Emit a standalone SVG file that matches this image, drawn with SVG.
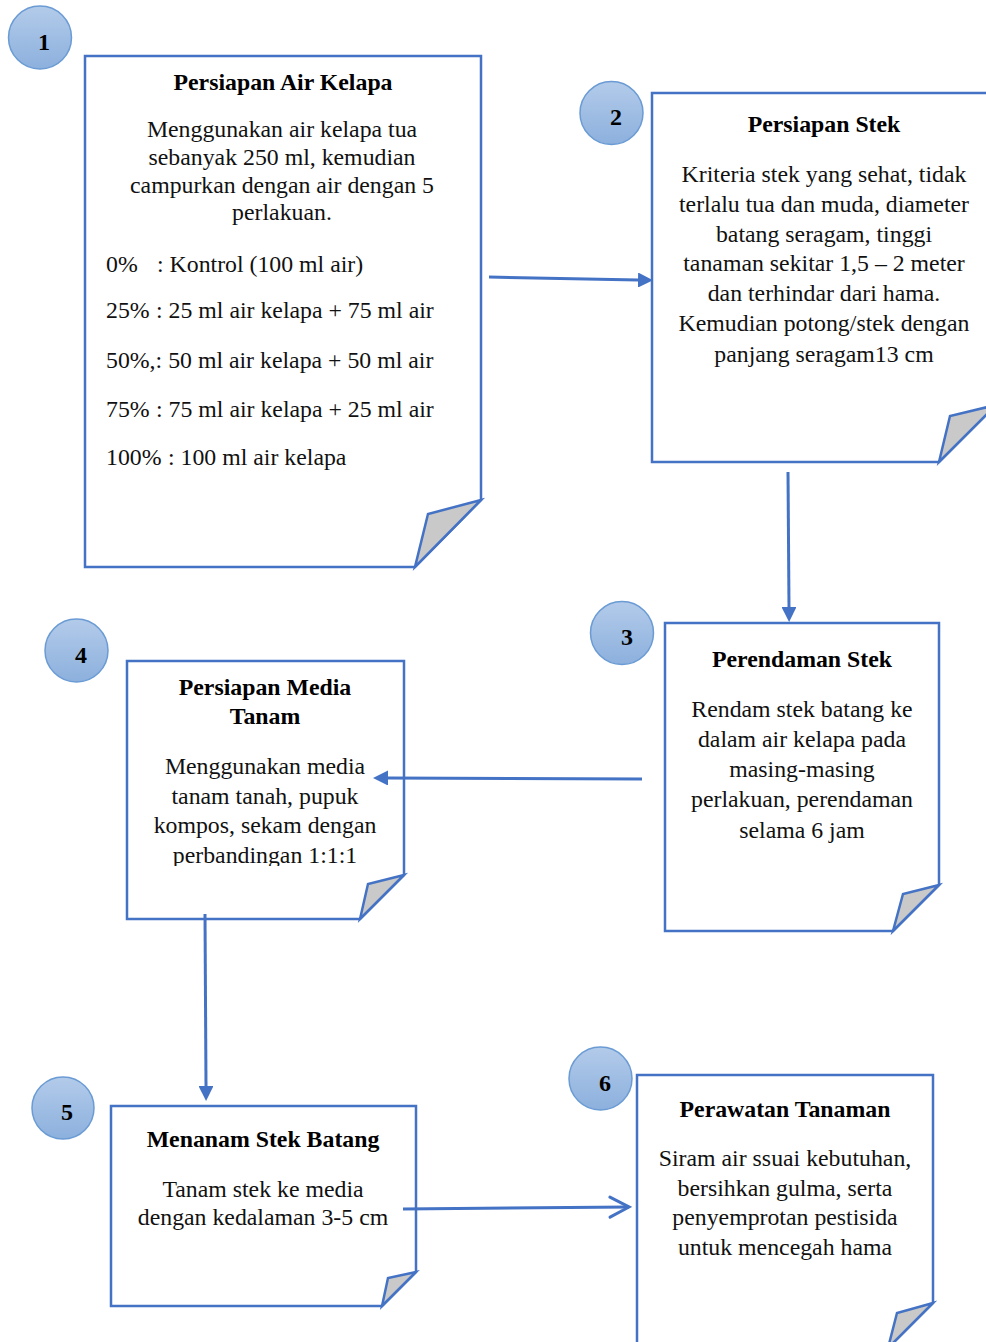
<svg xmlns="http://www.w3.org/2000/svg" width="986" height="1342" viewBox="0 0 986 1342">
<style>
.box{fill:#fff;stroke:#4472c4;stroke-width:2.5;stroke-linejoin:miter}
.fold{fill:#c9c9c9;stroke:#4472c4;stroke-width:2.5;stroke-linejoin:miter}
.num{fill:url(#cg);stroke:#6a9bd4;stroke-width:1.5}
.nt{font-family:"Liberation Serif","Times New Roman",serif;font-weight:bold;font-size:24px;fill:#000;text-anchor:middle}
.tt{font-family:"Liberation Serif","Times New Roman",serif;font-weight:bold;font-size:23.8px;fill:#000;text-anchor:middle}
.bt{font-family:"Liberation Serif","Times New Roman",serif;font-size:23.8px;fill:#111;text-anchor:middle}
.lt{font-family:"Liberation Serif","Times New Roman",serif;font-size:23.8px;fill:#111}
.conn{fill:none;stroke:#4472c4;stroke-width:3}
</style>
<defs>
<linearGradient id="cg" x1="0" y1="0" x2="0" y2="1">
<stop offset="0" stop-color="#b3cbea"/>
<stop offset="1" stop-color="#8cb0dd"/>
</linearGradient>
<marker id="ah" viewBox="0 0 15 15" refX="0" refY="7.5" markerWidth="15" markerHeight="15" markerUnits="userSpaceOnUse" orient="auto">
<path d="M0,0 L15,7.5 L0,15 z" fill="#4472c4"/>
</marker>
<marker id="ao" viewBox="0 0 24 24" refX="21" refY="12" markerWidth="24" markerHeight="24" markerUnits="userSpaceOnUse" orient="auto">
<path d="M2,2 L21,12 L2,22" fill="none" stroke="#4472c4" stroke-width="3" stroke-linecap="round" stroke-linejoin="miter"/>
</marker>
<clipPath id="c4"><rect x="127" y="661" width="277" height="205"/></clipPath>
</defs>

<g id="node1">
<path class="box" d="M85,56 H481 V500 L415,567 H85 Z"/>
<path class="fold" d="M481,500 L428,514 L415,567 Z"/>
<circle class="num" cx="40" cy="37.5" r="31.5"/>
<text class="nt" x="44" y="50">1</text>
<text class="tt" x="283" y="90">Persiapan Air Kelapa</text>
<text class="bt" x="282" y="137">Menggunakan air kelapa tua</text>
<text class="bt" x="282" y="165">sebanyak 250 ml, kemudian</text>
<text class="bt" x="282" y="193">campurkan dengan air dengan 5</text>
<text class="bt" x="282" y="220">perlakuan.</text>
<text class="lt" x="106" y="272">0%</text>
<text class="lt" x="157" y="272">: Kontrol (100 ml air)</text>
<text class="lt" x="106" y="318">25%</text>
<text class="lt" x="156" y="318">: 25 ml air kelapa + 75 ml air</text>
<text class="lt" x="106" y="368">50%,: 50 ml air kelapa + 50 ml air</text>
<text class="lt" x="106" y="417">75%</text>
<text class="lt" x="156" y="417">: 75 ml air kelapa + 25 ml air</text>
<text class="lt" x="106" y="465">100%</text>
<text class="lt" x="168" y="465">: 100 ml air kelapa</text>
</g>

<g id="node2">
<path class="box" d="M652,93 H996 V405 L939,462 H652 Z"/>
<path class="fold" d="M996,405 L950,416 L939,462 Z"/>
<circle class="num" cx="611.5" cy="113" r="31.5"/>
<text class="nt" x="616" y="125">2</text>
<text class="tt" x="824" y="132">Persiapan Stek</text>
<text class="bt" x="824" y="182">Kriteria stek yang sehat, tidak</text>
<text class="bt" x="824" y="212">terlalu tua dan muda, diameter</text>
<text class="bt" x="824" y="242">batang seragam, tinggi</text>
<text class="bt" x="824" y="271">tanaman sekitar 1,5 – 2 meter</text>
<text class="bt" x="824" y="301">dan terhindar dari hama.</text>
<text class="bt" x="824" y="331">Kemudian potong/stek dengan</text>
<text class="bt" x="824" y="362">panjang seragam13 cm</text>
</g>

<g id="node3">
<path class="box" d="M665,623 H939 V885 L893,931 H665 Z"/>
<path class="fold" d="M939,885 L903,894 L893,931 Z"/>
<circle class="num" cx="622" cy="633" r="31.5"/>
<text class="nt" x="627" y="645">3</text>
<text class="tt" x="802" y="667">Perendaman Stek</text>
<text class="bt" x="802" y="717">Rendam stek batang ke</text>
<text class="bt" x="802" y="747">dalam air kelapa pada</text>
<text class="bt" x="802" y="777">masing-masing</text>
<text class="bt" x="802" y="807">perlakuan, perendaman</text>
<text class="bt" x="802" y="838">selama 6 jam</text>
</g>

<g id="node4">
<path class="box" d="M127,661 H404 V875 L360,919 H127 Z"/>
<path class="fold" d="M404,875 L368,884 L360,919 Z"/>
<circle class="num" cx="76.5" cy="650.5" r="31.5"/>
<text class="nt" x="81" y="663">4</text>
<text class="tt" x="265" y="695">Persiapan Media</text>
<text class="tt" x="265" y="724">Tanam</text>
<g clip-path="url(#c4)">
<text class="bt" x="265" y="774">Menggunakan media</text>
<text class="bt" x="265" y="804">tanam tanah, pupuk</text>
<text class="bt" x="265" y="833">kompos, sekam dengan</text>
<text class="bt" x="265" y="863">perbandingan 1:1:1</text>
</g>
</g>

<g id="node5">
<path class="box" d="M111,1106 H416 V1272 L382,1306 H111 Z"/>
<path class="fold" d="M416,1272 L388,1278 L382,1306 Z"/>
<circle class="num" cx="63" cy="1108" r="31"/>
<text class="nt" x="67" y="1120">5</text>
<text class="tt" x="263" y="1147">Menanam Stek Batang</text>
<text class="bt" x="263" y="1197">Tanam stek ke media</text>
<text class="bt" x="263" y="1225">dengan kedalaman 3-5 cm</text>
</g>

<g id="node6">
<path class="box" d="M637,1075 H933 V1303 L888,1348 H637 Z"/>
<path class="fold" d="M933,1303 L897,1313 L888,1348 Z"/>
<circle class="num" cx="600.5" cy="1078.5" r="31.5"/>
<text class="nt" x="605" y="1091">6</text>
<text class="tt" x="785" y="1117">Perawatan Tanaman</text>
<text class="bt" x="785" y="1166">Siram air ssuai kebutuhan,</text>
<text class="bt" x="785" y="1196">bersihkan gulma, serta</text>
<text class="bt" x="785" y="1225">penyemprotan pestisida</text>
<text class="bt" x="785" y="1255">untuk mencegah hama</text>
</g>

<g id="connectors">
<path class="conn" d="M489,277 L638,280" marker-end="url(#ah)"/>
<path class="conn" d="M788,472 L789,607" marker-end="url(#ah)"/>
<path class="conn" d="M642,779 L388,778" marker-end="url(#ah)"/>
<path class="conn" d="M205,914 L206,1086" marker-end="url(#ah)"/>
<path class="conn" d="M403,1209 L629,1207" marker-end="url(#ao)"/>
</g>
</svg>
